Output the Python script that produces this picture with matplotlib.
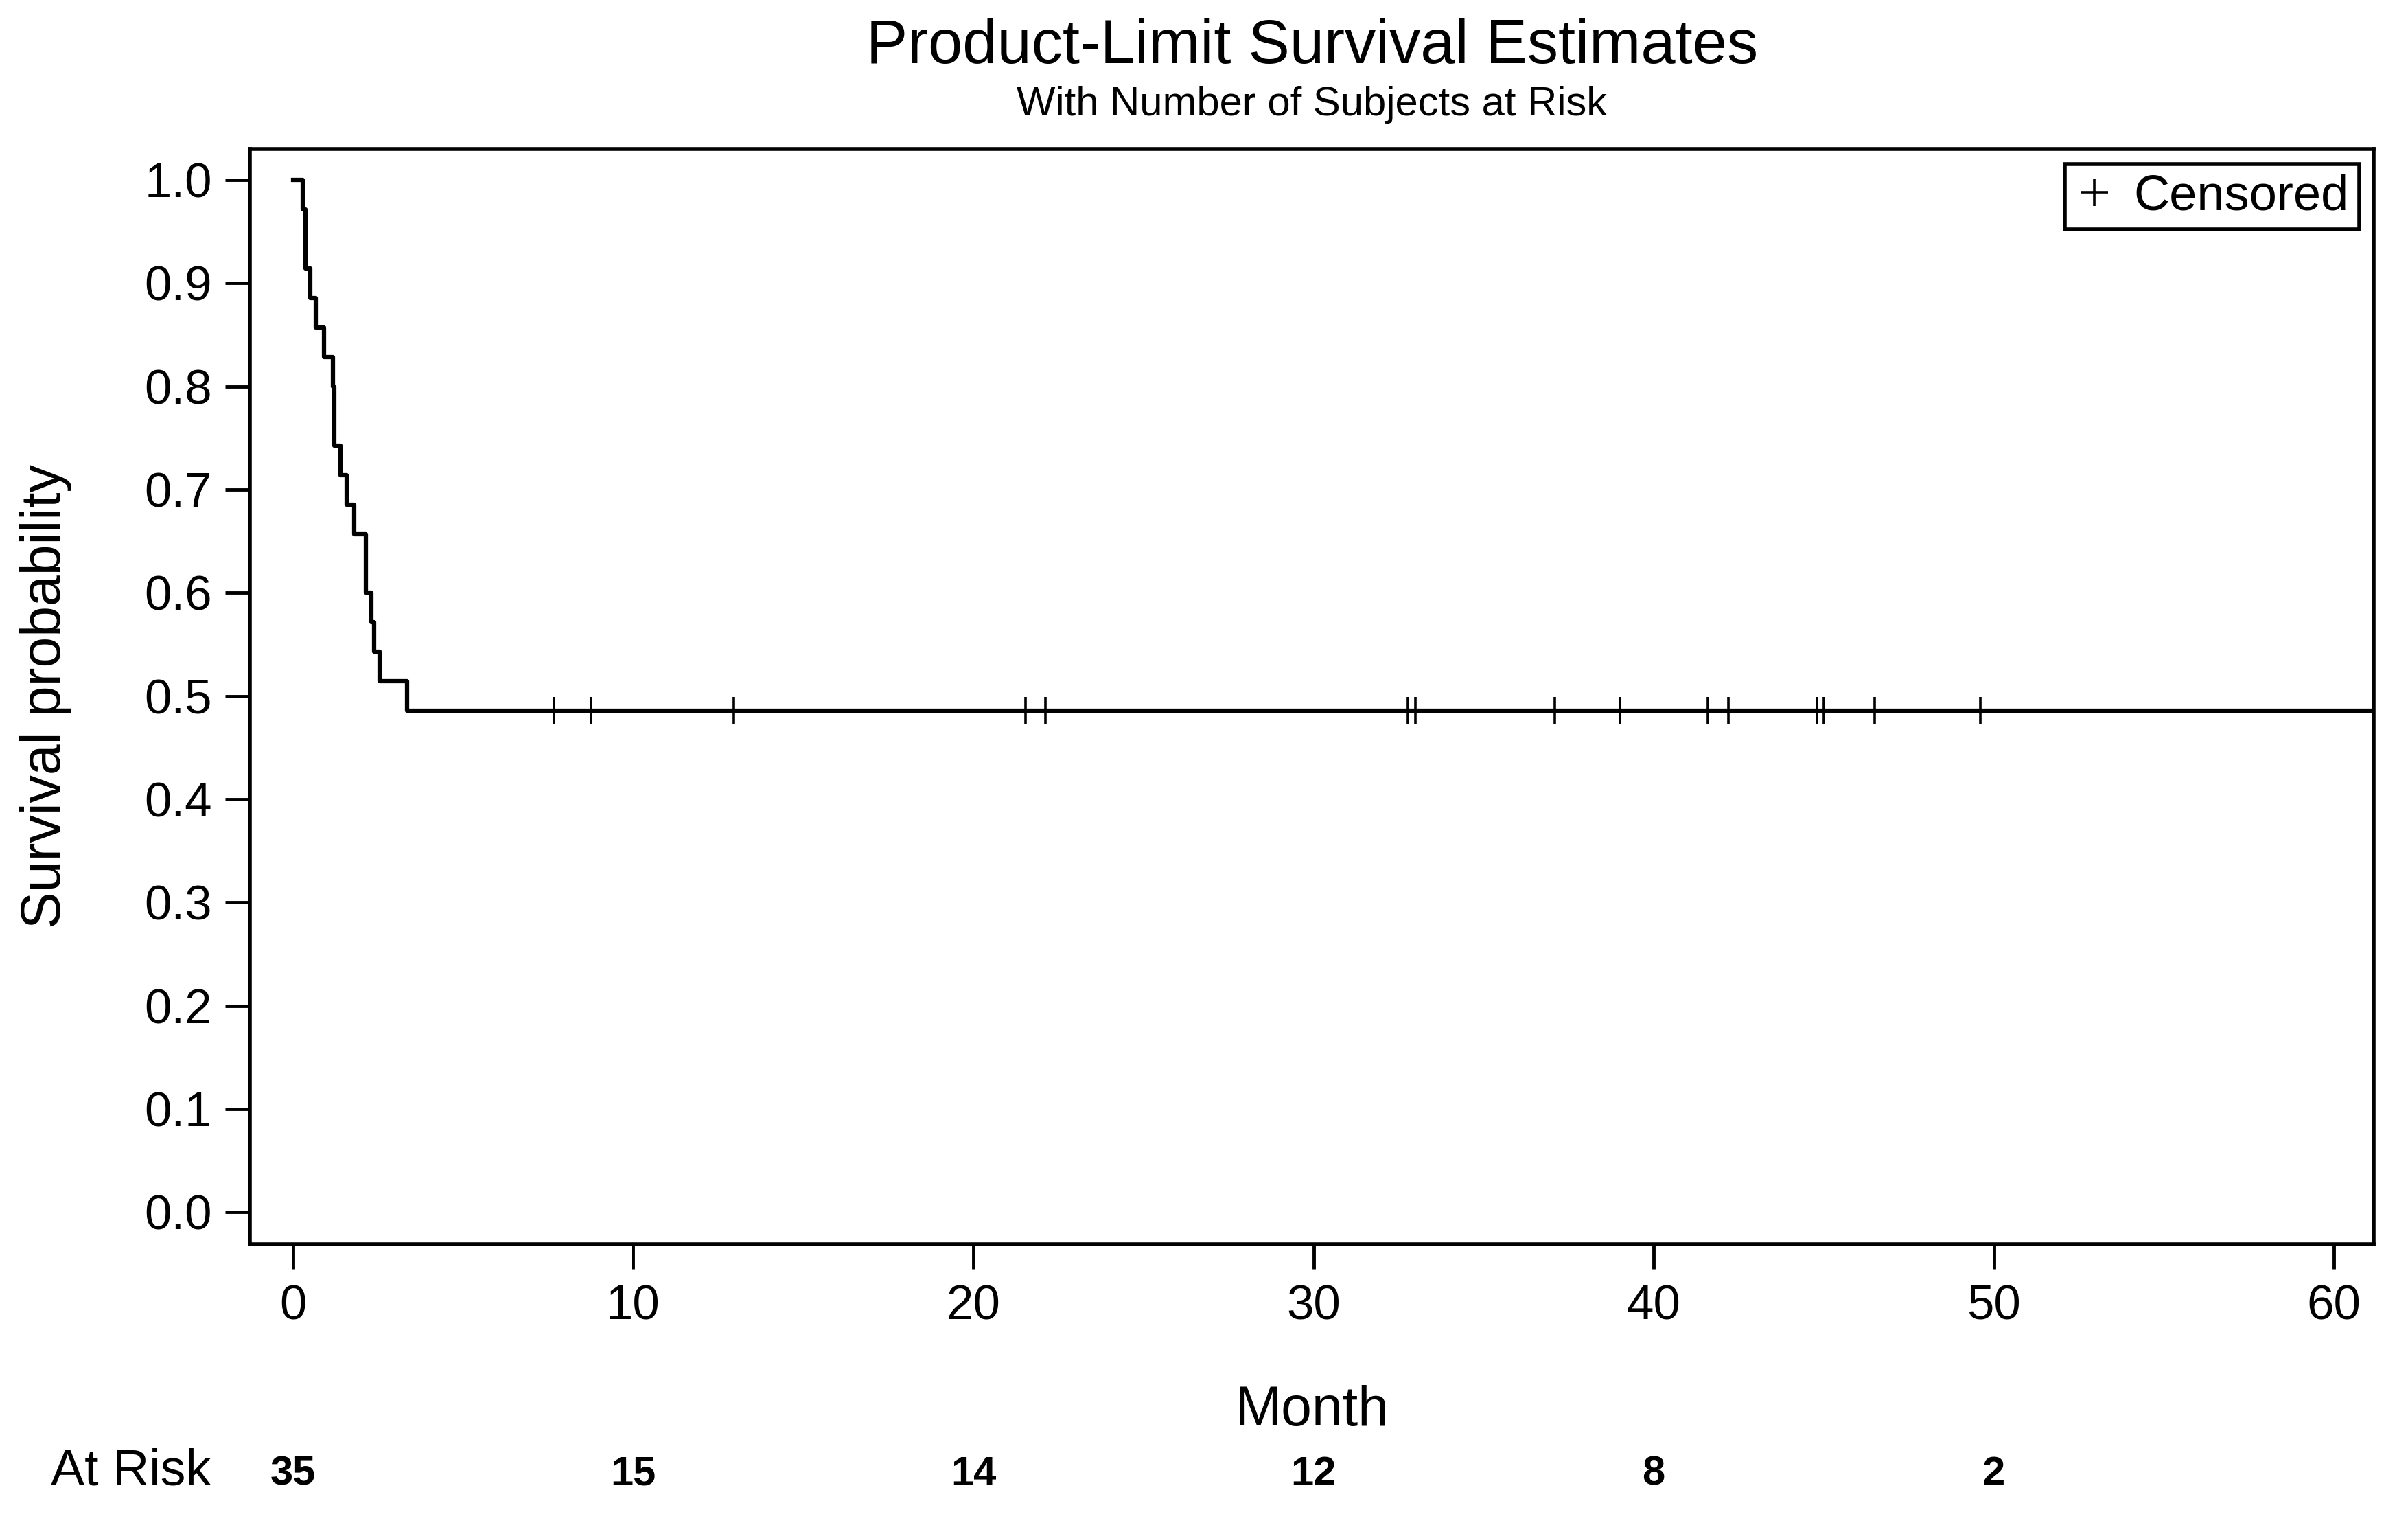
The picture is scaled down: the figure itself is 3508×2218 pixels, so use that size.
import numpy as np
import matplotlib.pyplot as plt

plt.rcParams['font.family'] = ['Liberation Sans', 'DejaVu Sans']

# months (events) and the tick marks (censored)
event_months = [0.28, 0.36, 0.36, 0.51, 0.67, 0.90, 1.18, 1.22, 1.22, 1.39,
                1.57, 1.79, 2.14, 2.14, 2.30, 2.38, 2.55, 3.35]
censor_months = [7.67, 8.76, 12.96, 21.53, 22.12, 32.78, 33.0, 37.1, 39.0,
                 41.6, 42.2, 44.8, 45.0, 46.5, 49.6, 62.0, 62.0]
risk_months = [0, 10, 20, 30, 40, 50]
at_risk = [35, 15, 14, 12, 8, 2]

times = np.array(event_months + censor_months)
status = np.array([1] * len(event_months) + [0] * len(censor_months))

# product-limit estimate
uniq = np.unique(times)
surv = []
s = 1.0
for t in uniq:
    n = np.sum(times >= t)
    d = np.sum((times == t) & (status == 1))
    s *= 1 - d / n
    surv.append(s)
step_x = np.concatenate([[0.0], uniq])
step_y = np.concatenate([[1.0], surv])

cens = np.array(censor_months)
cens_y = step_y[np.searchsorted(step_x, cens, side='right') - 1]

fig = plt.figure(figsize=(35.08, 22.18), dpi=100)
ax = fig.add_axes([0.1039, 0.1830, 0.8819, 0.7192])

ax.step(step_x, step_y, where='post', color='black', lw=4.5)
ax.plot(cens, cens_y, ls='none', marker='+', ms=29, mew=2.6, color='black',
        label='Censored')

ax.set_xlim(-1.26, 61.17)
ax.set_ylim(-0.031, 1.03)
ax.set_xticks(range(0, 61, 10))
ax.set_yticks(np.arange(0, 1.01, 0.1))
ax.set_yticklabels([f'{v:.1f}' for v in np.arange(0, 1.01, 0.1)])
ax.tick_params(length=26, width=3.5, labelsize=51, color='black')
ax.tick_params(axis='y', pad=14)
ax.tick_params(axis='x', pad=16)
for sp in ax.spines.values():
    sp.set_linewidth(4)

ax.set_ylabel('Survival probability', fontsize=58, va='center')
ax.yaxis.set_label_coords(-0.096, 0.5)

leg = ax.legend(loc='upper right', fontsize=52, fancybox=False,
                edgecolor='black', framealpha=1, handlelength=0.8,
                handletextpad=0.4, borderpad=0.2, borderaxespad=0.3)
leg.get_frame().set_linewidth(4)

cx = 0.1039 + 0.8819 / 2
fig.text(cx, 0.9585, 'Product-Limit Survival Estimates', fontsize=65,
         ha='center', va='baseline')
fig.text(cx, 0.9243, 'With Number of Subjects at Risk', fontsize=43,
         ha='center', va='baseline')
fig.text(cx, 0.064, 'Month', fontsize=58, ha='center', va='baseline')

fig.text(0.021, 0.0248, 'At Risk', fontsize=53, ha='left', va='baseline')
for m, n in zip(risk_months, at_risk):
    xf = ax.transData.transform((m, 0))[0] / fig.bbox.width
    fig.text(xf, 0.0248, str(n), fontsize=43, fontweight='bold',
             ha='center', va='baseline')

fig.savefig('out.png', dpi=100)
